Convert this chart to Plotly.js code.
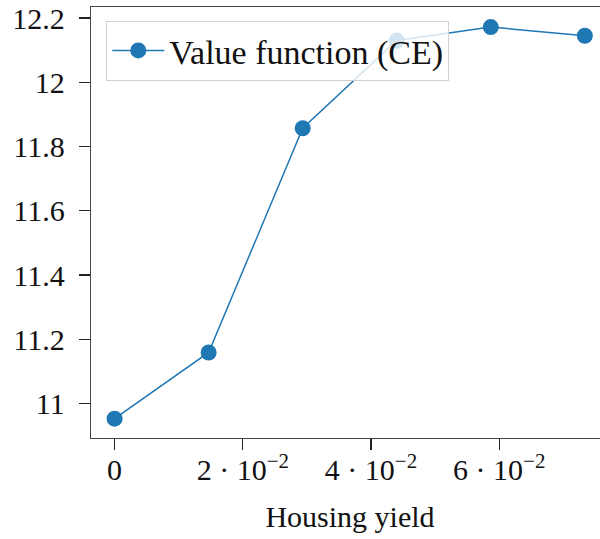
<!DOCTYPE html>
<html>
<head>
<meta charset="utf-8">
<script src="https://cdn.plot.ly/plotly-3.0.1.min.js"></script>
<style>
  html, body { margin: 0; padding: 0; overflow: hidden; background: #fff; }
  #chart { width: 620px; height: 539px; }
</style>
</head>
<body>
<div id="chart"></div>
<script>
// Data
const housingYield = [0, 0.01467, 0.02934, 0.04401, 0.05868, 0.07335];
const valueCE = [10.953, 11.159, 11.857, 12.130, 12.172, 12.145];
const seriesName = 'Value function (CE)';
const xTickVals = [0, 0.02, 0.04, 0.06];
const xTickText = ['0', '2 · 10<sup>−2</sup>', '4 · 10<sup>−2</sup>', '6 · 10<sup>−2</sup>'];
const yTickVals = [11, 11.2, 11.4, 11.6, 11.8, 12, 12.2];
const yTickText = ['11', '11.2', '11.4', '11.6', '11.8', '12', '12.2'];
const xTitle = 'Housing yield';

const FONT = '"Liberation Serif", "DejaVu Serif", serif';

const trace = {
  x: housingYield,
  y: valueCE,
  type: 'scatter',
  mode: 'lines+markers',
  name: seriesName,
  line: { color: '#1f77b4', width: 1.5 },
  marker: { color: '#1f77b4', size: 16 },
  showlegend: true
};

const layout = {
  width: 620,
  height: 539,
  margin: { l: 91, r: 11, t: 7, b: 101 },
  paper_bgcolor: '#fff',
  plot_bgcolor: '#fff',
  font: { family: FONT, size: 30, color: '#111' },
  showlegend: true,
  legend: {
    x: 0.0295, y: 0.968, xanchor: 'left', yanchor: 'top',
    bgcolor: 'rgba(255,255,255,0.8)',
    bordercolor: '#d0d0d0', borderwidth: 1,
    itemwidth: 52,
    font: { family: FONT, size: 34, color: '#111' }
  },
  xaxis: {
    range: [-0.00368, 0.07712],
    tickvals: xTickVals,
    ticktext: xTickText,
    ticks: 'outside', ticklen: 11, tickwidth: 1.3, tickcolor: '#222',
    showline: true, linecolor: '#444', linewidth: 1.3, mirror: true,
    showgrid: false, zeroline: false,
    ticklabelstandoff: -6,
    tickfont: { family: FONT, size: 30, color: '#111' },
    title: { text: xTitle, font: { family: FONT, size: 30, color: '#111' }, standoff: 20 }
  },
  yaxis: {
    range: [10.8928, 12.2344],
    tickvals: yTickVals,
    ticktext: yTickText,
    ticks: 'outside', ticklen: 11, tickwidth: 1.3, tickcolor: '#222',
    showline: true, linecolor: '#444', linewidth: 1.3, mirror: true,
    showgrid: false, zeroline: false,
    ticklabelstandoff: 8,
    tickfont: { family: FONT, size: 30, color: '#111' }
  }
};

Plotly.newPlot('chart', [trace], layout, { displayModeBar: false, staticPlot: true });
</script>
</body>
</html>
